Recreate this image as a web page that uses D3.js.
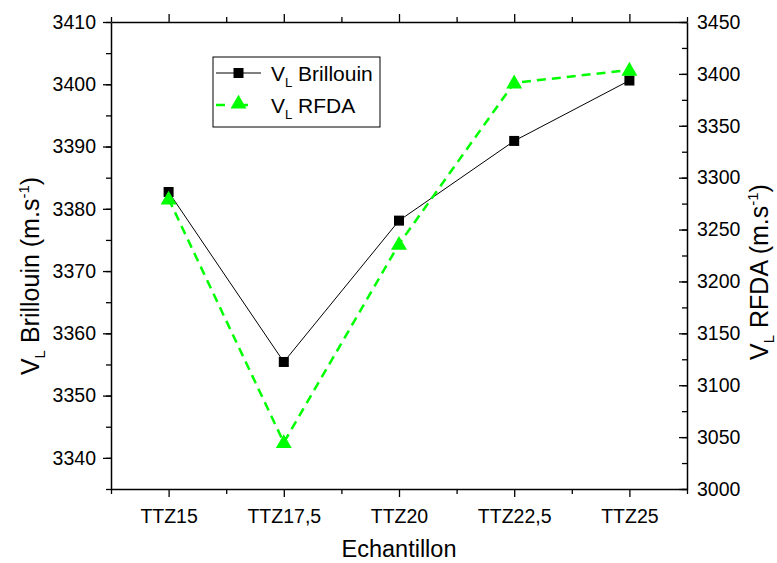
<!DOCTYPE html>
<html><head><meta charset="utf-8">
<script src="https://cdn.jsdelivr.net/npm/d3@7"></script>
<style>body{margin:0;background:#fff}svg{font-family:"Liberation Sans",Arial,sans-serif}</style>
</head><body>
<svg id="c" width="777" height="563"></svg>
<script>
const categories = ["TTZ15","TTZ17,5","TTZ20","TTZ22,5","TTZ25"];
const brillouin = [3382.7, 3355.4, 3378.1, 3390.9, 3400.6];
const rfda = [3279.6, 3044.8, 3236, 3391.4, 3403.7];
const leftTicks = [3340,3350,3360,3370,3380,3390,3400,3410];
const rightTicks = [3000,3050,3100,3150,3200,3250,3300,3350,3400,3450];

const svg = d3.select("#c");
const L = 111, R = 687, T = 22, B = 489;
const x = d3.scaleLinear().domain([-0.5, 4.5]).range([L, R]);
const yL = d3.scaleLinear().domain([3335, 3410]).range([B, T]);
const yR = d3.scaleLinear().domain([3000, 3450]).range([B, T]);

const g = svg.append("g");
function styleAxis(sel){
  sel.selectAll("path").attr("stroke","#000").attr("stroke-width",1.5);
  sel.selectAll("line").attr("stroke","#000").attr("stroke-width",1.3);
  sel.selectAll("text").attr("font-size",19.5).attr("fill","#000");
}
const majorIdx = d3.range(5), minorIdx = d3.range(-0.5, 4.6, 1);
// bottom
const bMinor = g.append("g").attr("transform",`translate(0,${B})`)
  .call(d3.axisBottom(x).tickValues(minorIdx).tickSize(5).tickSizeOuter(0).tickFormat(""));
styleAxis(bMinor);
const bMajor = g.append("g").attr("transform",`translate(0,${B})`)
  .call(d3.axisBottom(x).tickValues(majorIdx).tickSize(8).tickSizeOuter(0).tickPadding(12).tickFormat(i=>categories[i]));
styleAxis(bMajor); bMajor.select("path").remove();
// top
const tMinor = g.append("g").attr("transform",`translate(0,${T})`)
  .call(d3.axisTop(x).tickValues(minorIdx).tickSize(5).tickSizeOuter(0).tickFormat(""));
styleAxis(tMinor);
const tMajor = g.append("g").attr("transform",`translate(0,${T})`)
  .call(d3.axisTop(x).tickValues(majorIdx).tickSize(8).tickSizeOuter(0).tickFormat(""));
styleAxis(tMajor); tMajor.select("path").remove();
// left
const lMinor = g.append("g").attr("transform",`translate(${L},0)`)
  .call(d3.axisLeft(yL).tickValues(d3.range(3335, 3411, 5)).tickSize(5).tickSizeOuter(0).tickFormat(""));
styleAxis(lMinor);
const lMajor = g.append("g").attr("transform",`translate(${L},0)`)
  .call(d3.axisLeft(yL).tickValues(leftTicks).tickSize(8).tickSizeOuter(0).tickPadding(7).tickFormat(d3.format("d")));
styleAxis(lMajor); lMajor.select("path").remove();
// right (ticks inward)
const rMinor = g.append("g").attr("transform",`translate(${R},0)`)
  .call(d3.axisLeft(yR).tickValues(d3.range(3000, 3451, 25)).tickSize(5).tickSizeOuter(0).tickFormat(""));
styleAxis(rMinor);
const rMajor = g.append("g").attr("transform",`translate(${R},0)`)
  .call(d3.axisLeft(yR).tickValues(rightTicks).tickSize(8).tickSizeOuter(0).tickFormat(""));
styleAxis(rMajor); rMajor.select("path").remove();
const rLab = g.append("g").attr("transform",`translate(${R},0)`)
  .call(d3.axisRight(yR).tickValues(rightTicks).tickSize(0).tickPadding(10).tickFormat(d3.format("d")));
styleAxis(rLab); rLab.select("path").remove();

// lines
const lineB = d3.line().x((d,i)=>x(i)).y(d=>yL(d));
const lineR = d3.line().x((d,i)=>x(i)).y(d=>yR(d));
svg.append("path").datum(brillouin).attr("d",lineB).attr("fill","none").attr("stroke","#000").attr("stroke-width",1);
svg.append("path").datum(rfda).attr("d",lineR).attr("fill","none").attr("stroke","#00ff00").attr("stroke-width",2.5).attr("stroke-dasharray","9,6");
const tri = d3.symbol().type(d3.symbolTriangle).size(110);
svg.selectAll(".sq").data(brillouin).join("rect")
  .attr("x",(d,i)=>x(i)-5).attr("y",d=>yL(d)-5).attr("width",10).attr("height",10).attr("fill","#000");
svg.selectAll(".tr").data(rfda).join("path")
  .attr("d",tri).attr("transform",(d,i)=>`translate(${x(i)},${yR(d)+1})`).attr("fill","#00ff00");

// legend
const lg = svg.append("g");
lg.append("rect").attr("x",213).attr("y",57).attr("width",167).attr("height",70).attr("fill","#fff").attr("stroke","#000").attr("stroke-width",1);
lg.append("line").attr("x1",216).attr("x2",261).attr("y1",73).attr("y2",73).attr("stroke","#000").attr("stroke-width",1);
lg.append("rect").attr("x",233.5).attr("y",68).attr("width",10).attr("height",10).attr("fill","#000");
lg.append("line").attr("x1",216).attr("x2",261).attr("y1",105).attr("y2",105).attr("stroke","#00ff00").attr("stroke-width",2.5).attr("stroke-dasharray","9,14");
lg.append("path").attr("d",tri).attr("transform","translate(238.5,104)").attr("fill","#00ff00");
function legText(y, name){
  const t = lg.append("text").attr("x",271).attr("y",y).attr("font-size",21).attr("fill","#000");
  t.append("tspan").text("V");
  t.append("tspan").attr("font-size",13).attr("dy",6).text("L");
  t.append("tspan").attr("dy",-6).text(" " + name);
}
legText(81, "Brillouin");
legText(113, "RFDA");

// axis titles
svg.append("text").attr("x",(L+R)/2).attr("y",557).attr("text-anchor","middle").attr("font-size",23.5).text("Echantillon");
function yTitle(cx, cy, name){
  const t = svg.append("text").attr("transform",`translate(${cx},${cy}) rotate(-90)`).attr("text-anchor","middle").attr("font-size",25).attr("fill","#000");
  t.append("tspan").text("V");
  t.append("tspan").attr("font-size",15).attr("dy",6).text("L");
  t.append("tspan").attr("dy",-6).text(" " + name + " (m.s");
  t.append("tspan").attr("font-size",15).attr("dy",-10).text("-1");
  t.append("tspan").attr("dy",10).text(")");
}
yTitle(39, 276, "Brillouin");
yTitle(768, 272, "RFDA");
</script>
</body></html>
